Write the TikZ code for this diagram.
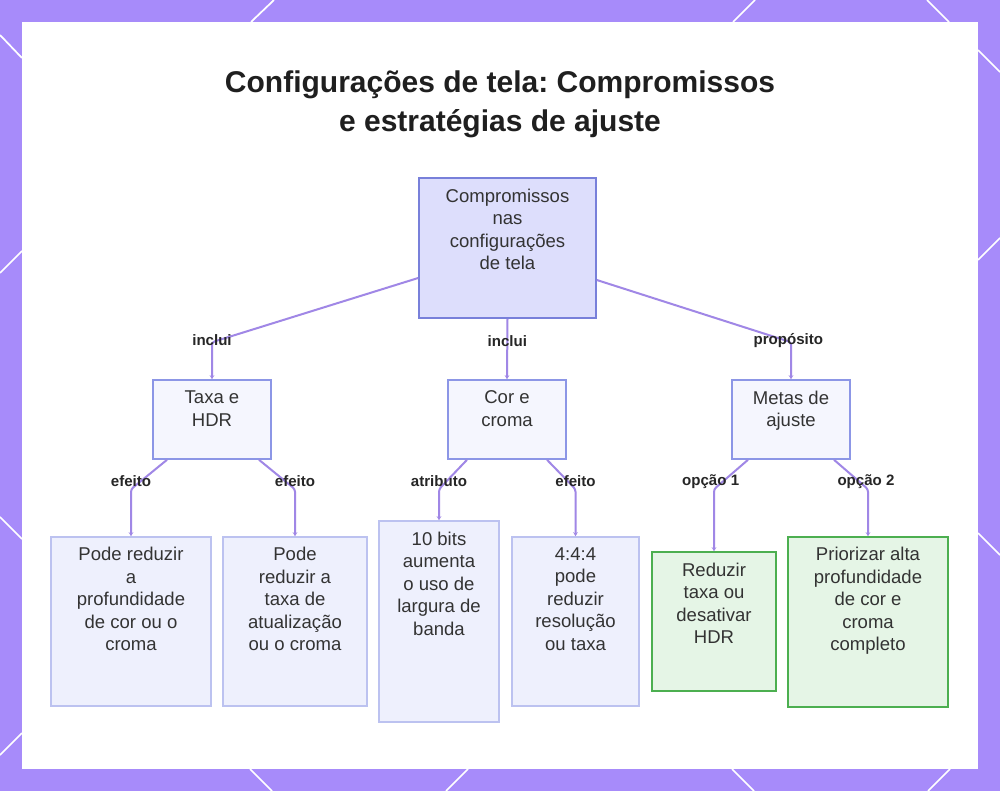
\documentclass[tikz,border=0pt]{standalone}
\usepackage{fontspec}
\setmainfont{Liberation Sans}
\usetikzlibrary{arrows.meta, positioning}
\frenchspacing

\definecolor{framec}{RGB}{167,139,250}
\definecolor{linkc}{RGB}{160,135,230}
\definecolor{ink}{RGB}{51,51,51}
\definecolor{rootfill}{RGB}{221,222,252}
\definecolor{rootline}{RGB}{120,128,218}
\definecolor{midfill}{RGB}{245,246,254}
\definecolor{midline}{RGB}{140,150,230}
\definecolor{leaffill}{RGB}{238,240,253}
\definecolor{leafline}{RGB}{188,194,240}
\definecolor{goalfill}{RGB}{229,245,230}
\definecolor{goalline}{RGB}{76,175,80}

\begin{document}
\begin{tikzpicture}[x=0.75pt, y=-0.75pt,
            box/.style={draw, line width=1.2pt, inner sep=0pt},
            rootbox/.style={box, draw=rootline, fill=rootfill,
                            minimum width=132.75pt, minimum height=105pt},
            midbox/.style={box, draw=midline, fill=midfill,
                           minimum width=88.5pt, minimum height=59.25pt},
            leafbox/.style={box, draw=leafline, fill=leaffill},
            goalbox/.style={box, draw=goalline, fill=goalfill},
            txt/.style={anchor=north, align=center, text=ink, inner sep=0pt,
                        font=\fontsize{13.9}{16.9}\selectfont},
            lbl/.style={font=\bfseries\fontsize{11.3}{13}\selectfont,
                        text=black!85, inner sep=1pt},
            link/.style={{Stealth[length=3pt, width=3.5pt]}-, line width=1.5pt,
                         draw=linkc, rounded corners=2pt}]

            %% ── Frame ─────────────────────────────────────────────────────
            \useasboundingbox (0,0) rectangle (1000,791);
            \fill[framec] (0,0) rectangle (1000,791);
            \begin{scope}[draw=white, line width=1.3pt]
                \draw (0,35)    -- (22,58);   \draw (251,22)  -- (274,0);
                \draw (733,22)  -- (755,0);   \draw (927,0)   -- (949,22);
                \draw (978,50)  -- (1000,72); \draw (0,273)   -- (22,251);
                \draw (0,517)   -- (22,539);  \draw (978,260) -- (1000,238);
                \draw (978,533) -- (1000,555);\draw (0,755)   -- (22,733);
                \draw (250,769) -- (272,791); \draw (468,769) -- (446,791);
                \draw (732,769) -- (754,791); \draw (950,769) -- (928,791);
            \end{scope}
            \fill[white] (22,22) rectangle (978,769);

            \node[anchor=base, align=center, text=black!88,
                  font=\bfseries\fontsize{22.5}{29.25}\selectfont] (title) at (500,131.5)
                {Configurações de tela: Compromissos\\e estratégias de ajuste};

            %% ── Nodes ─────────────────────────────────────────────────────
            \node[rootbox] (root)  at (507.5,248) {};
            \node[midbox]  (taxa)  at (212,419.5) {};
            \node[midbox]  (cor)   at (507,419.5) {};
            \node[midbox]  (metas) at (791,419.5) {};

            \node[leafbox, minimum width=120pt,   minimum height=126.75pt] (prof)  at (131,621.5) {};
            \node[leafbox, minimum width=108pt,   minimum height=126.75pt] (atual) at (295,621.5) {};
            \node[leafbox, minimum width=90pt,    minimum height=150.75pt] (bits)  at (439,621.5) {};
            \node[leafbox, minimum width=95.25pt, minimum height=126.75pt] (croma) at (575.5,621.5) {};
            \node[goalbox, minimum width=93pt,    minimum height=104.25pt] (opt1)  at (714,621.5) {};
            \node[goalbox, minimum width=120pt,   minimum height=127.5pt]  (opt2)  at (868,622) {};

            %% ── Texts ─────────────────────────────────────────────────────
            \node[txt] (rootT)  at ([yshift=-8.6pt]root.north)  {Compromissos\\nas\\configurações\\de tela};
            \node[txt] (taxaT)  at ([yshift=-8.6pt]taxa.north)  {Taxa e\\HDR};
            \node[txt] (corT)   at ([yshift=-8.6pt]cor.north)   {Cor e\\croma};
            \node[txt] (metasT) at ([yshift=-8.6pt]metas.north) {Metas de\\ajuste};
            \node[txt] (profT)  at ([yshift=-8.2pt]prof.north)  {Pode reduzir\\a\\profundidade\\de cor ou o\\croma};
            \node[txt] (atualT) at ([yshift=-8.2pt]atual.north) {Pode\\reduzir a\\taxa de\\atualização\\ou o croma};
            \node[txt] (bitsT)  at ([yshift=-8.6pt]bits.north)  {10 bits\\aumenta\\o uso de\\largura de\\banda};
            \node[txt] (cromaT) at ([yshift=-8.2pt]croma.north) {4:4:4\\pode\\reduzir\\resolução\\ou taxa};
            \node[txt] (opt1T)  at ([yshift=-8.6pt]opt1.north)  {Reduzir\\taxa ou\\desativar\\HDR};
            \node[txt] (opt2T)  at ([yshift=-8.2pt]opt2.north)  {Priorizar alta\\profundidade\\de cor e\\croma\\completo};

            %% ── Links ─────────────────────────────────────────────────────
            \draw[link] (taxa.north) -- ++(0,-37) node[lbl, yshift=1.5pt]{inclui}
                -- ([yshift=-22.5pt]root.west);
            \draw[link] (cor.north) -- node[lbl, pos=0.63]{inclui} (root.south);
            \draw[link] (metas.north) -- ++(0,-37) node[lbl, xshift=-2pt, yshift=1.5pt]{propósito}
                -- ([yshift=-24pt]root.east);

            \draw[link] (prof.north)  -- ++(0,-47) node[lbl, yshift=6pt]{efeito}
                -- ([xshift=-33.75pt]taxa.south);
            \draw[link] (atual.north) -- ++(0,-47) node[lbl, yshift=6pt]{efeito}
                -- ([xshift=35.25pt]taxa.south);
            \draw[link] (bits.north)  -- ++(0,-31) node[lbl, yshift=6pt]{atributo}
                -- ([xshift=-30pt]cor.south);
            \draw[link] (croma.north) -- ++(0,-47) node[lbl, yshift=6pt]{efeito}
                -- ([xshift=30pt]cor.south);
            \draw[link] (opt1.north)  -- ++(0,-62) node[lbl, xshift=-2.5pt, yshift=6pt]{opção 1}
                -- ([xshift=-32.25pt]metas.south);
            \draw[link] (opt2.north)  -- ++(0,-47) node[lbl, xshift=-1.5pt, yshift=6pt]{opção 2}
                -- ([xshift=32.25pt]metas.south);

\end{tikzpicture}
\end{document}
